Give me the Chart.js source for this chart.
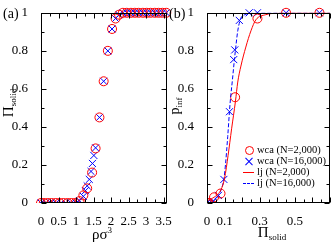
<!DOCTYPE html>
<html><head><meta charset="utf-8">
<script src="https://cdn.jsdelivr.net/npm/chart.js@4/dist/chart.umd.min.js"></script>
<style>
html,body{margin:0;padding:0;background:#fff;}
#wrap{position:relative;width:336px;height:242px;overflow:hidden;font-family:"Liberation Serif",serif;color:#000;}
canvas{position:absolute;left:0;top:0;}
.t{position:absolute;white-space:nowrap;line-height:1;}
.c{transform:translate(-50%,-50%);}
.r{transform:translate(-50%,-50%) rotate(-90deg);}
sub{font-size:9px;vertical-align:-3px;}
sup{font-size:9px;vertical-align:6px;}
#legend{left:243px;top:145px;font-size:10.5px;}
.row{display:flex;align-items:center;height:11px;}
.sym{position:relative;width:12px;height:11px;margin-right:2px;}
.circ{position:absolute;left:1.5px;top:1px;width:7px;height:7px;border:1px solid #f00;border-radius:50%;}
.xa,.xb{position:absolute;left:1px;top:5px;width:10px;height:1px;background:#00f;}
.xa{transform:rotate(45deg);} .xb{transform:rotate(-45deg);}
.ln{position:absolute;left:0;top:5px;width:11px;height:0;}
</style></head>
<body><div id="wrap">
<canvas id="ca" width="336" height="242"></canvas>
<canvas id="cb" width="336" height="242"></canvas>
<div class="t" style="left:3px;top:7px;font-size:14px;">(a)</div>
<div class="t" style="left:169px;top:7px;font-size:14px;">(b)</div>
<div class="t r" style="left:9px;top:103px;font-size:15px;">Π<sub>solid</sub></div>
<div class="t r" style="left:176px;top:106px;font-size:14px;">p<sub>inf</sub></div>
<div class="t c" style="left:102px;top:234px;font-size:15px;">ρσ<sup>3</sup></div>
<div class="t c" style="left:272px;top:233px;font-size:15px;">Π<sub>solid</sub></div>
<div id="legend" class="t"></div>
</div>
<script>
// ---- panel (a): Π_solid vs ρσ³ ----
const rhoWca2k = [0.00,0.08,0.19,0.30,0.42,0.53,0.64,0.76,0.87,0.98,1.10,1.21,1.32,1.46,1.56,1.67,1.79,1.91,2.03,2.13,2.23,2.34,2.45,2.57,2.68,2.79,2.91,3.02,3.13,3.25,3.36,3.47,3.58];
const piWca2k  = [0,0,0,0,0,0,0,0,0,0,0.01,0.04,0.077,0.16,0.287,0.45,0.64,0.80,0.915,0.97,0.99,1,1,1,1,1,1,1,1,1,1,1,1];
const rhoWca16k = [0.00,0.14,0.28,0.43,0.57,0.71,0.86,1.00,1.10,1.21,1.27,1.32,1.38,1.43,1.47,1.51,1.56,1.67,1.79,1.91,2.03,2.13,2.23,2.34,2.45,2.57,2.68,2.79,2.91,3.02,3.13,3.25,3.36,3.47,3.58];
const piWca16k  = [0,0,0,0,0,0,0,0,0.012,0.035,0.065,0.09,0.124,0.166,0.208,0.25,0.29,0.45,0.64,0.80,0.915,0.97,0.99,1,1,1,1,1,1,1,1,1,1,1,1];
const xTicksA = [0,0.5,1,1.5,2,2.5,3,3.5];
const yTicks = [0,0.2,0.4,0.6,0.8,1];

// ---- panel (b): p_inf vs Π_solid ----
const piB_wca2k = [0,0.01,0.04,0.077,0.16,0.287,0.45,0.64];
const pB_wca2k  = [0,0,0.03,0.05,0.556,0.97,1,1];
const piB_wca16k = [0,0.012,0.035,0.065,0.096,0.128,0.152,0.158,0.184,0.24,0.287,0.45,0.64];
const pB_wca16k  = [0,0,0.01,0.04,0.124,0.48,0.754,0.805,0.96,1,1,1,1];
const piB_lj2k = [0,0.02,0.04,0.06,0.08,0.10,0.12,0.14,0.162,0.175,0.193,0.221,0.25,0.278,0.334,0.4,0.5,0.6,0.7];
const pB_lj2k  = [0.01,0.02,0.03,0.045,0.07,0.13,0.25,0.39,0.535,0.636,0.72,0.82,0.905,0.963,0.99,0.998,1,1,1];
const piB_lj16k = [0,0.03,0.065,0.08,0.096,0.105,0.118,0.131,0.145,0.156,0.162,0.175,0.193,0.215,0.24,0.3,0.4,0.5,0.6,0.7];
const pB_lj16k  = [0,0.005,0.04,0.07,0.124,0.2,0.35,0.52,0.65,0.754,0.805,0.905,0.972,0.99,0.997,1,1,1,1,1];
const xTicksB = [0,0.1,0.3,0.5];
const seriesLabels = ['wca (N=2,000)','wca (N=16,000)','lj (N=2,000)','lj (N=16,000)'];

const RED='#ff0000', BLUE='#0000ff';
const pts = (xs, ys) => xs.map((x,i)=>({x, y:ys[i]}));
const near = (v, arr) => arr.some(a => Math.abs(a - v) < 1e-9);

const frame = {
  id:'frame',
  afterDraw(chart){
    const {ctx, chartArea:a, scales} = chart;
    ctx.save();
    ctx.strokeStyle='#000'; ctx.lineWidth=1;
    const L=Math.round(a.left)+0.5, R=Math.round(a.right)-0.5, T=Math.round(a.top)+0.5, B=Math.round(a.bottom)-0.5;
    ctx.beginPath();
    const seg=(x1,y1,x2,y2)=>{ctx.moveTo(x1,y1);ctx.lineTo(x2,y2);};
    const tx=(v,len)=>{const p=Math.round(scales.x.getPixelForValue(v))+0.5; seg(p,B,p,B-len); seg(p,T,p,T+len);};
    const ty=(v,len)=>{const p=Math.round(scales.y.getPixelForValue(v))+0.5; seg(L,p,L+len,p); seg(R,p,R-len,p);};
    const xt=scales.x.ticks, yt=scales.y.ticks;
    xt.forEach((t,i)=>{tx(t.value,5); if(i<xt.length-1) tx((t.value+xt[i+1].value)/2,3);});
    yt.forEach((t,i)=>{ty(t.value,5); if(i<yt.length-1) ty((t.value+yt[i+1].value)/2,3);});
    ctx.stroke();
    ctx.strokeRect(L,T,R-L,B-T);
    ctx.restore();
  }
};

const tickFont = {family:'"Liberation Serif", serif', size:13};
function axes(xmin,xmax,xstep,xlabels){
  return {
    x:{type:'linear',min:xmin,max:xmax,grid:{display:false},border:{display:false},
       afterFit(s){s.height=39;},
       ticks:{stepSize:xstep,includeBounds:false,autoSkip:false,maxRotation:0,minRotation:0,padding:3,color:'#000',font:tickFont,
         callback:(v)=> near(v,xlabels) ? String(+v.toFixed(2)) : ''}},
    y:{type:'linear',min:0,max:1,grid:{display:false},border:{display:false},
       afterFit(s){s.width=41;},
       ticks:{stepSize:0.2,padding:5,color:'#000',font:tickFont,
         callback:(v)=> near(v,yTicks) ? String(+v.toFixed(2)) : ''}}
  };
}
const common = {responsive:false,animation:false,devicePixelRatio:1,
  plugins:{legend:{display:false},tooltip:{enabled:false}}};

new Chart(document.getElementById('ca'),{
  type:'scatter',
  data:{datasets:[
    {label:'wca (N=2,000)',data:pts(rhoWca2k,piWca2k),pointStyle:'circle',pointRadius:4.5,borderColor:RED,backgroundColor:'rgba(0,0,0,0)',borderWidth:1,showLine:false,clip:{left:6,right:6,top:6,bottom:0}},
    {label:'wca (N=16,000)',data:pts(rhoWca16k,piWca16k),pointStyle:'crossRot',pointRadius:5,borderColor:BLUE,backgroundColor:BLUE,borderWidth:1,showLine:false,clip:{left:6,right:6,top:6,bottom:0}}
  ]},
  options:Object.assign({},common,{layout:{padding:{left:0,right:169,top:4,bottom:0}},scales:axes(0,3.6,0.5,xTicksA)}),
  plugins:[frame]
});

new Chart(document.getElementById('cb'),{
  type:'scatter',
  data:{datasets:[
    {label:seriesLabels[2],data:pts(piB_lj2k,pB_lj2k),showLine:true,borderColor:RED,borderWidth:1,pointRadius:0,cubicInterpolationMode:'monotone'},
    {label:seriesLabels[3],data:pts(piB_lj16k,pB_lj16k),showLine:true,borderColor:BLUE,borderWidth:1,borderDash:[4,2],pointRadius:0,cubicInterpolationMode:'monotone'},
    {label:seriesLabels[0],data:pts(piB_wca2k,pB_wca2k),pointStyle:'circle',pointRadius:4.5,borderColor:RED,backgroundColor:'rgba(0,0,0,0)',borderWidth:1,showLine:false,clip:{left:0,right:6,top:6,bottom:0}},
    {label:seriesLabels[1],data:pts(piB_wca16k,pB_wca16k),pointStyle:'crossRot',pointRadius:5,borderColor:BLUE,backgroundColor:BLUE,borderWidth:1,showLine:false,clip:{left:0,right:6,top:6,bottom:0}}
  ]},
  options:Object.assign({},common,{layout:{padding:{left:166,right:3,top:4,bottom:0}},scales:axes(0,0.7,0.1,xTicksB)}),
  plugins:[frame]
});

// HTML legend built from the series labels
const symbols = [
  '<span class="circ"></span>',
  '<span class="xa"></span><span class="xb"></span>',
  '<span class="ln" style="border-top:1px solid '+RED+'"></span>',
  '<span class="ln" style="border-top:1px dashed '+BLUE+'"></span>'
];
document.getElementById('legend').innerHTML = seriesLabels.map((s,i)=>
  '<div class="row"><span class="sym">'+symbols[i]+'</span><span>'+s+'</span></div>').join('');
</script>
</body></html>
